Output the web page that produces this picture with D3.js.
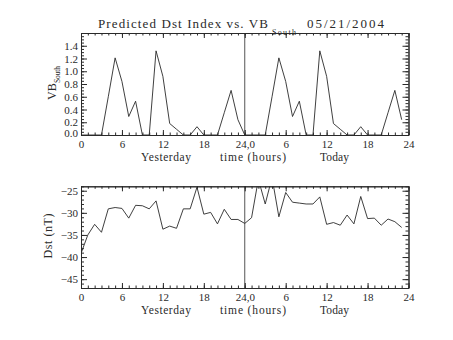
<!DOCTYPE html>
<html><head><meta charset="utf-8">
<script src="https://cdn.jsdelivr.net/npm/d3@7"></script>
<style>body{margin:0;background:#fff}svg{display:block}</style>
</head><body><svg id="c" width="453" height="340"></svg>
<script>
// ---- data ----
const hours = [0,1,2,3,4,5,6,7,8,9,10,11,12,13,14,15,16,17,18,19,20,21,22,23,
               24,25,26,27,28,29,30,31,32,33,34,35,36,37,38,39,40,41,42,43,44,45,46,47];
const vbSouth = [0,0,0,0,0.6,1.21,0.84,0.29,0.53,0,0,1.32,0.92,0.18,0.09,0,0,0.13,0,0,0,0.35,0.7,0.24,
                 0,0,0,0,0.6,1.21,0.84,0.29,0.53,0,0,1.32,0.92,0.18,0.09,0,0,0.13,0,0,0,0.35,0.7,0.24];
const dst = [-39.2,-35.0,-32.6,-34.4,-29.1,-28.8,-29.0,-31.2,-28.3,-28.4,-29.1,-27.3,-33.7,-33.0,-33.5,-29.1,-29.1,-24.2,-30.3,-29.9,-32.5,-29.2,-31.5,-31.5,
             -32.4,-31.1,-22.4,-28.0,-22.0,-30.9,-25.4,-27.6,-27.8,-28.0,-28.0,-26.4,-32.6,-32.2,-32.8,-30.5,-32.5,-26.3,-31.3,-31.2,-32.8,-31.4,-32.0,-33.3];
const xTickValues = [0,6,12,18,24,30,36,42,48];
const xTickLabels = ["0","6","12","18","24,0","6","12","18","24"];
const vbTicks = [0,0.2,0.4,0.6,0.8,1.0,1.2,1.4];
const dstTicks = [-45,-40,-35,-30,-25];
const titleMain = "Predicted Dst Index vs. VB";
const titleSub = "South";
const titleDate = "05/21/2004";
const dayLabels = ["Yesterday","time (hours)","Today"];

// ---- drawing ----
const svg = d3.select("#c");
const FONT = "'Liberation Serif', 'DejaVu Serif', serif";
const INK = "#2a2a2a";
const L = 81, R = 408.5;
const x = d3.scaleLinear().domain([0,48]).range([L,R]);
const xMinor = d3.range(0,49,1);

function panel(top, bottom, domain, majors, minorStep, fmt, values, id) {
  const y = d3.scaleLinear().domain(domain).range([bottom, top]);
  const minors = d3.range(Math.ceil(domain[0]/minorStep)*minorStep, domain[1]+1e-9, minorStep);
  const g = svg.append("g").attr("color", INK);
  // minor ticks
  g.append("g").attr("transform",`translate(${L},0)`).call(d3.axisLeft(y).tickValues(minors).tickSize(-3).tickSizeOuter(0).tickFormat(""));
  g.append("g").attr("transform",`translate(${R},0)`).call(d3.axisRight(y).tickValues(minors).tickSize(-3).tickSizeOuter(0).tickFormat(""));
  g.append("g").attr("transform",`translate(0,${bottom})`).call(d3.axisBottom(x).tickValues(xMinor).tickSize(-2.5).tickSizeOuter(0).tickFormat(""));
  g.append("g").attr("transform",`translate(0,${top})`).call(d3.axisTop(x).tickValues(xMinor).tickSize(-2.5).tickSizeOuter(0).tickFormat(""));
  // major ticks
  const ly = g.append("g").attr("transform",`translate(${L},0)`)
    .call(d3.axisLeft(y).tickValues(majors).tickSize(-6).tickSizeOuter(0).tickPadding(3).tickFormat(fmt));
  g.append("g").attr("transform",`translate(${R},0)`).call(d3.axisRight(y).tickValues(majors).tickSize(-6).tickSizeOuter(0).tickFormat(""));
  g.append("g").attr("transform",`translate(0,${bottom})`)
    .call(d3.axisBottom(x).tickValues(xTickValues).tickSize(-5).tickSizeOuter(0).tickPadding(5.5).tickFormat((d,i)=>xTickLabels[i]));
  g.append("g").attr("transform",`translate(0,${top})`).call(d3.axisTop(x).tickValues(xTickValues).tickSize(-5).tickSizeOuter(0).tickFormat(""));
  g.selectAll("text").attr("font-family", FONT).attr("font-size", 11).attr("fill", INK);
  g.selectAll(".domain").attr("stroke-width", 1);
  // divider at 24 h
  g.append("line").attr("x1", x(24)).attr("x2", x(24)).attr("y1", top).attr("y2", bottom)
    .attr("stroke", INK).attr("stroke-width", 0.8);
  // clip + data
  svg.append("clipPath").attr("id", id).append("rect")
    .attr("x", L).attr("y", top).attr("width", R-L).attr("height", bottom-top);
  svg.append("path").datum(values)
    .attr("clip-path", `url(#${id})`)
    .attr("fill","none").attr("stroke", INK).attr("stroke-width", 0.9)
    .attr("d", d3.line().x((d,i)=>x(hours[i])).y(d=>y(d)));
  // day labels
  const yb = bottom + 26;
  const pos = [[141,50],[220,66],[320,29]];
  dayLabels.forEach((t,i)=>{
    svg.append("text").attr("x",pos[i][0]).attr("y",yb).attr("textLength",pos[i][1]).attr("lengthAdjust","spacing")
      .attr("font-family",FONT).attr("font-size",11.5).attr("fill",INK).text(t);
  });
  return {g, ly, y};
}

const p1 = panel(33, 135, [0,1.6], vbTicks, 0.05, d3.format(".1f"), vbSouth, "clipTop");
// bottom label of VB axis sits slightly raised, as in the reference
p1.ly.selectAll(".tick text").filter(d => d === 0).attr("dy", "0.18em");
const p2 = panel(186.3, 288, [-47,-24], dstTicks, 1, d3.format("d"), dst, "clipBot");

// title
svg.append("text").attr("x",98).attr("y",28).attr("textLength",170).attr("lengthAdjust","spacing")
  .attr("font-family",FONT).attr("font-size",13).attr("fill",INK).text(titleMain);
svg.append("text").attr("x",272).attr("y",34.5).attr("textLength",24).attr("lengthAdjust","spacing")
  .attr("font-family",FONT).attr("font-size",8).attr("fill",INK).text(titleSub);
svg.append("text").attr("x",307).attr("y",28).attr("textLength",77).attr("lengthAdjust","spacing")
  .attr("font-family",FONT).attr("font-size",13).attr("fill",INK).text(titleDate);

// y labels
const g1 = svg.append("g").attr("transform","translate(56,100) rotate(-90)");
g1.append("text").attr("x",0).attr("y",0).attr("font-family",FONT).attr("font-size",12).attr("fill",INK).text("VB");
g1.append("text").attr("x",17).attr("y",4).attr("textLength",17).attr("lengthAdjust","spacing")
  .attr("font-family",FONT).attr("font-size",7.5).attr("fill",INK).text("South");
svg.append("g").attr("transform","translate(52,236) rotate(-90)")
  .append("text").attr("text-anchor","middle").attr("textLength",45).attr("lengthAdjust","spacing")
  .attr("font-family",FONT).attr("font-size",12).attr("fill",INK).text("Dst (nT)");
</script></body></html>
